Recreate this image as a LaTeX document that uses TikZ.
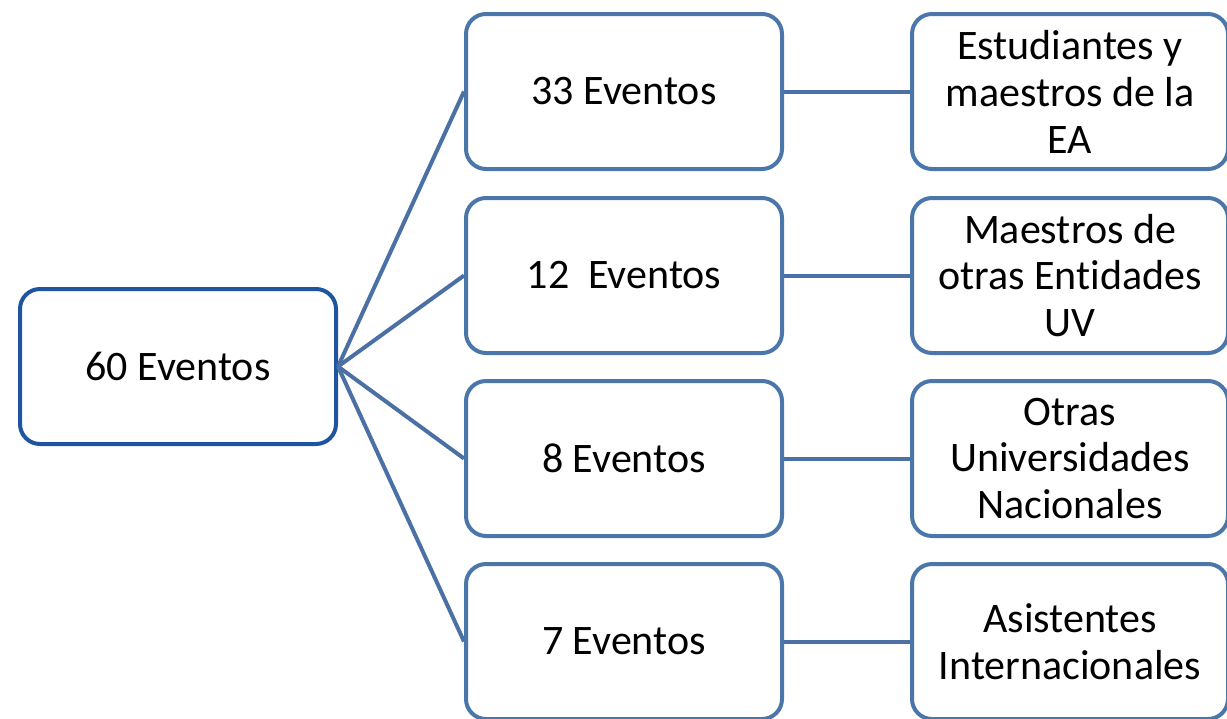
\documentclass[tikz,border=0pt]{standalone}
\usepackage{fontspec}
\setmainfont[Ligatures={NoCommon}]{Carlito}
\definecolor{rootblue}{HTML}{1F55A0}
\definecolor{boxblue}{HTML}{4A76AA}
\definecolor{lineblue}{HTML}{4A70A4}
\begin{document}
\begin{tikzpicture}[x=0.75pt,y=-0.75pt,
  evbox/.style={draw=boxblue,line width=3pt,rounded corners=15pt,fill=white,
    minimum width=237pt,minimum height=116.25pt,align=center,inner sep=0pt,
    font=\fontsize{31.5}{35.2}\selectfont},
  rootbox/.style={evbox,draw=rootblue},
  conn/.style={draw=lineblue,line width=3pt}]
\useasboundingbox (0,0) rectangle (1227,718);
\clip (0,0) rectangle (1227,718);
\node[rootbox] (root) at (178,366.5) {60 Eventos};
\node[evbox] (m1) at (624,91.5) {33 Eventos};
\node[evbox] (m2) at (624,275.5) {12~ Eventos};
\node[evbox] (m3) at (624,458.5) {8 Eventos};
\node[evbox] (m4) at (624,641.5) {7 Eventos};
\node[evbox] (r1) at (1070,91.5) {Estudiantes y\\maestros de la\\EA};
\node[evbox] (r2) at (1070,275.5) {Maestros de\\otras Entidades\\UV};
\node[evbox] (r3) at (1070,458.5) {Otras\\Universidades\\Nacionales};
\node[evbox] (r4) at (1070,641.5) {Asistentes\\Internacionales};
\foreach \i in {1,2,3,4}{
  \draw[conn] (root.east) -- (m\i.west);
  \draw[conn] (m\i.east) -- (r\i.west);
}
\end{tikzpicture}
\end{document}
